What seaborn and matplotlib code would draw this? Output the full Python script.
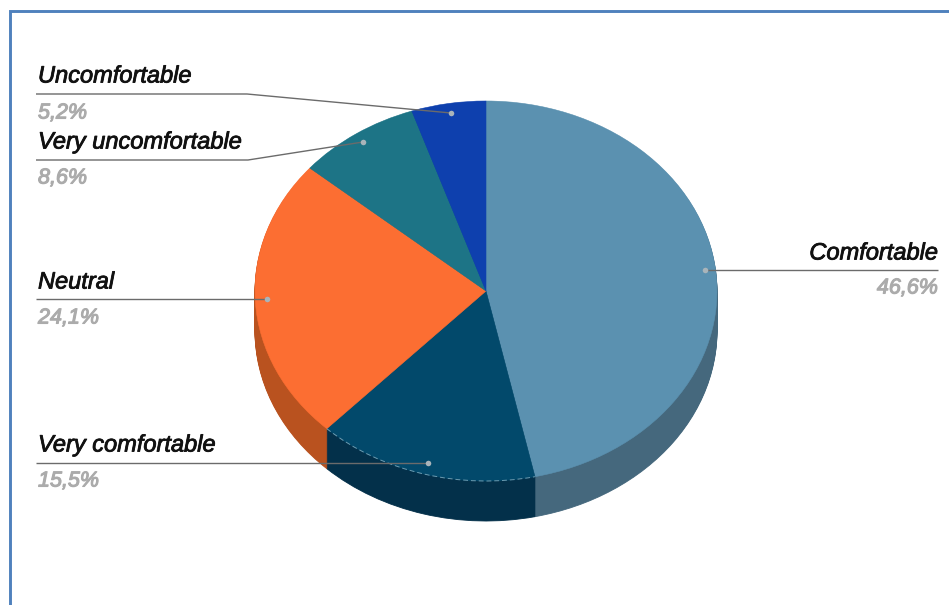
import matplotlib
matplotlib.use("Agg")
import matplotlib.pyplot as plt
import matplotlib.patheffects as pe
from matplotlib.patches import Arc
import seaborn as sns

categories = ["Comfortable", "Very comfortable", "Neutral", "Very uncomfortable", "Uncomfortable"]
shares = [46.6, 15.5, 24.1, 8.6, 5.2]
share_labels = ["46,6%", "15,5%", "24,1%", "8,6%", "5,2%"]
top_colors = ["#5B91B0", "#02496B", "#FC6E32", "#1D7486", "#0E40AE"]
side_colors = ["#45687D", "#03304A", "#B9521F", "#155665", "#0A2F80"]

sns.set_theme(style="white")
plt.rcParams["font.family"] = ["Liberation Sans", "DejaVu Sans"]

W, H = 949, 605
fig = plt.figure(figsize=(W / 100, H / 100), dpi=100, facecolor="white")

# Pie geometry in pixels
cx, cy, rx, ry, depth = 486, 291, 231, 190, 40
ax = fig.add_axes([(cx - rx) / W, 1 - (cy + ry) / H, 2 * rx / W, 2 * ry / H])
ax.set_axis_off()
for d in range(depth, 0, -1):
    wedges, _ = ax.pie(shares, colors=sns.color_palette(side_colors), startangle=90, counterclock=False,
                       center=(0, -d / ry), radius=1, normalize=True, frame=False)
    for w, c in zip(wedges, side_colors):
        w.set_edgecolor(c)
        w.set_linewidth(0.6)
wedges, _ = ax.pie(shares, colors=sns.color_palette(top_colors), startangle=90, counterclock=False,
                   center=(0, 0), radius=1, normalize=True, frame=False)
for w, c in zip(wedges, top_colors):
    w.set_edgecolor(c)
    w.set_linewidth(0.4)
ax.set_aspect("auto")
ax.set_xlim(-1, 1)
ax.set_ylim(-1, 1)

# Faint dashed rim along the front of the dark navy slice
navy = wedges[1]
ax.add_patch(Arc((0, 0), 2, 2, theta1=navy.theta1, theta2=navy.theta2, color="#6C9BB0",
                 lw=0.7, ls=(0, (5, 3)), clip_on=False, zorder=5))

# Overlay in pixel coordinates
ov = fig.add_axes([0, 0, 1, 1], facecolor="none")
ov.set_xlim(0, W)
ov.set_ylim(H, 0)
ov.set_axis_off()

ov.plot([10.5, 10.5, W], [H, 10.5, 10.5], color="#4F81BD", lw=2.1, solid_joinstyle="miter", zorder=5)

layout = {
    "Uncomfortable": (38, "left", 76, 113, [(36, 94), (247, 94), (451, 113)]),
    "Very uncomfortable": (38, "left", 142, 178, [(36, 160), (248, 160), (363, 142)]),
    "Neutral": (38, "left", 282, 318, [(36, 299), (267, 299)]),
    "Very comfortable": (38, "left", 445, 481, [(36, 463), (428, 463)]),
    "Comfortable": (938, "right", 253, 288, [(938, 270), (705, 270)]),
}
stroke_dark = [pe.withStroke(linewidth=0.6, foreground="#111111")]
stroke_grey = [pe.withStroke(linewidth=0.8, foreground="#ababab")]
for name, pct in zip(categories, share_labels):
    x, ha, y1, y2, path = layout[name]
    xs, ys = zip(*path)
    ov.plot(xs, ys, color="#6b6b6b", lw=1.0, zorder=6, solid_capstyle="butt")
    ov.plot(xs[-1], ys[-1], "o", ms=4, color="#a9b4ba", mew=0, zorder=7)
    ov.text(x, y1, name, ha=ha, va="center", fontsize=17, style="italic", color="#111111", path_effects=stroke_dark)
    ov.text(x, y2, pct, ha=ha, va="center", fontsize=15.5, style="italic", color="#ababab", path_effects=stroke_grey)

fig.savefig("out.png", dpi=100, facecolor="white")
